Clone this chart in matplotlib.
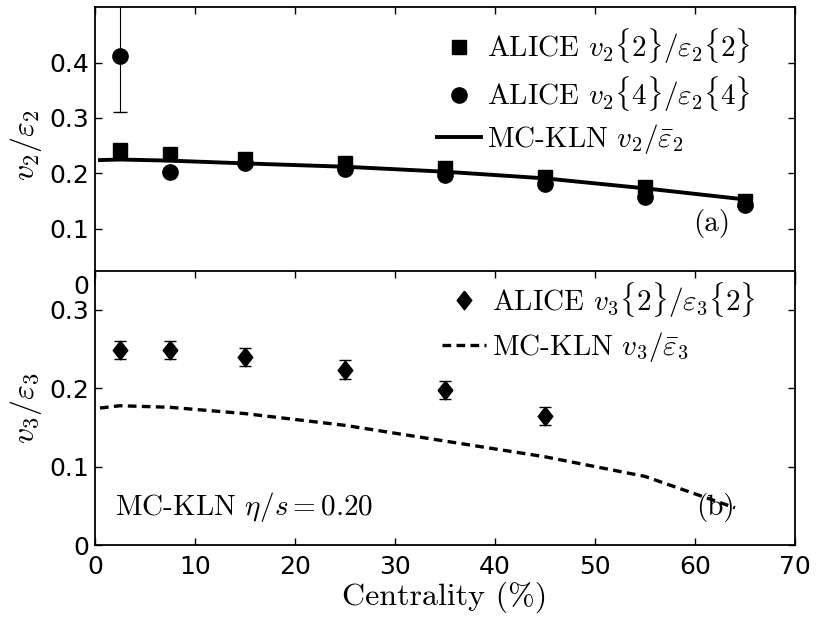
import numpy as np
import matplotlib
matplotlib.use('Agg')
import matplotlib.pyplot as plt

plt.rcParams['mathtext.fontset'] = 'cm'
plt.rcParams['font.family'] = ['DejaVu Sans']

# ---- data ----
cent = [2.5, 7.5, 15, 25, 35, 45, 55, 65]
v2_22 = [0.243, 0.235, 0.226, 0.219, 0.209, 0.194, 0.175, 0.150]
v2_22_err = [0.006, 0.006, 0.005, 0.005, 0.005, 0.005, 0.005, 0.005]
v2_44 = [0.411, 0.203, 0.219, 0.207, 0.197, 0.180, 0.158, 0.143]
v2_44_err = [0.100, 0.005, 0.005, 0.005, 0.005, 0.005, 0.005, 0.006]

kln_x = [0.5, 2.5, 7.5, 15, 25, 35, 45, 55, 65]
kln_v2 = [0.224, 0.225, 0.223, 0.218, 0.212, 0.203, 0.191, 0.173, 0.153]

cent3 = [2.5, 7.5, 15, 25, 35, 45]
v3_22 = [0.249, 0.249, 0.240, 0.224, 0.198, 0.165]
v3_22_err = [0.012, 0.012, 0.012, 0.012, 0.012, 0.012]

kln3_x = [0.5, 2.5, 7.5, 15, 25, 35, 45, 55, 64]
kln_v3 = [0.175, 0.178, 0.176, 0.168, 0.153, 0.133, 0.113, 0.088, 0.048]

xticks = [0, 10, 20, 30, 40, 50, 60, 70]
yticks_top = [0, 0.1, 0.2, 0.3, 0.4]
ytlab_top = ['0', '0.1', '0.2', '0.3', '0.4']
yticks_bot = [0, 0.1, 0.2, 0.3]
ytlab_bot = ['0', '0.1', '0.2', '0.3']

CM = 'cmr10'
FS = 21
diamond = [(0, 1), (0.78, 0), (0, -1), (-0.78, 0), (0, 1)]

fig = plt.figure(figsize=(8.16, 6.17), dpi=100)
ax1 = fig.add_axes([0.1164, 0.5394, 0.8578, 0.449])
ax2 = fig.add_axes([0.1164, 0.1159, 0.8578, 0.4454])
ax2.set_zorder(3)
ax2.set_facecolor('white')


def style(ax):
    for s in ax.spines.values():
        s.set_linewidth(1.3)
    ax.tick_params(direction='in', length=5, width=1.0, top=True, right=True,
                   labelsize=18)
    ax.tick_params(axis='y', pad=4)
    ax.tick_params(axis='x', pad=7)
    ax.set_xlim(0, 70)
    ax.set_xticks(xticks)


# ---- top panel ----
style(ax1)
ax1.errorbar(cent, v2_22, yerr=v2_22_err, fmt='none', ecolor='k', elinewidth=0.8, capsize=4.5)
ax1.errorbar(cent, v2_44, yerr=v2_44_err, fmt='none', ecolor='k', elinewidth=0.8, capsize=5.3)
ax1.plot(cent, v2_22, 's', color='k', ms=9.4, ls='none',
         label=r'ALICE $v_2\{2\}/\varepsilon_2\{2\}$')
ax1.plot(cent, v2_44, 'o', color='k', ms=11, ls='none',
         label=r'ALICE $v_2\{4\}/\varepsilon_2\{4\}$')
ax1.plot(kln_x, kln_v2, '-', color='k', lw=2.8,
         label=r'MC-KLN $v_2/\bar{\varepsilon}_2$')
ax1.set_ylim(0, 0.5)
ax1.set_yticks(yticks_top)
ax1.set_yticklabels(ytlab_top)
ax1.tick_params(labelbottom=False)
ax1.set_ylabel(r'$v_2/\varepsilon_2$', fontsize=23, labelpad=4)
ax1.text(61.7, 0.110, '(a)', family=CM, fontsize=FS, ha='center', va='center')
ax1.legend(loc='upper right', bbox_to_anchor=(0.936, 0.93), frameon=False,
           prop={'family': CM, 'size': FS}, numpoints=1, handlelength=1.5,
           handletextpad=0.2, labelspacing=0.3, borderaxespad=0, borderpad=0)

# ---- bottom panel ----
style(ax2)
ax2.errorbar(cent3, v3_22, yerr=v3_22_err, fmt='none', ecolor='k', elinewidth=0.8, capsize=4.5)
ax2.plot(cent3, v3_22, marker=diamond, color='k', ms=13.5, ls='none',
         label=r'ALICE $v_3\{2\}/\varepsilon_3\{2\}$')
ax2.plot(kln3_x, kln_v3, '--', color='k', lw=2.4, dashes=(2.6, 1.6),
         label=r'MC-KLN $v_3/\bar{\varepsilon}_3$')
ax2.set_ylim(0, 0.35)
ax2.set_yticks(yticks_bot)
ax2.set_yticklabels(ytlab_bot)
ax2.set_ylabel(r'$v_3/\varepsilon_3$', fontsize=23, labelpad=4)
ax2.set_xlabel('Centrality (%)', family=CM, fontsize=23, labelpad=2)
ax2.text(62, 0.049, '(b)', family=CM, fontsize=FS, ha='center', va='center')
ax2.text(2.0, 0.049, r'MC-KLN $\eta/s = 0.20$', family=CM, fontsize=21,
         ha='left', va='center')
ax2.legend(loc='upper right', bbox_to_anchor=(0.943, 0.965), frameon=False,
           prop={'family': CM, 'size': FS}, numpoints=1, handlelength=1.5,
           handletextpad=0.2, labelspacing=0.35, borderaxespad=0, borderpad=0)

fig.savefig('out.png', dpi=100)
